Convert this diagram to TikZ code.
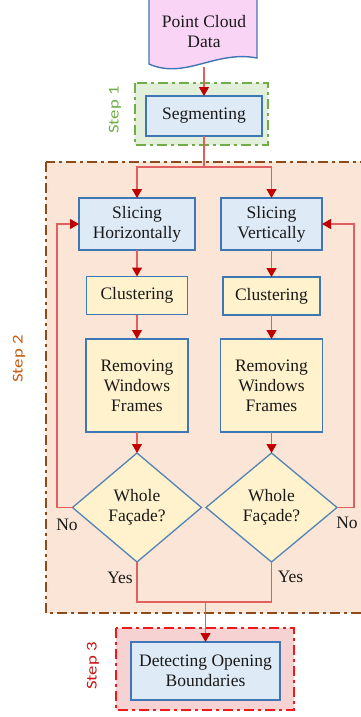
\documentclass[tikz,border=0pt]{standalone}
\usepackage{fontspec}
\setmainfont{Liberation Serif}
\newfontfamily\stepfont{Carlito}
\usetikzlibrary{shapes.geometric,arrows.meta}
\definecolor{pinkfill}{HTML}{FAD4F5}
\definecolor{bluefill}{HTML}{DEEBF7}
\definecolor{yellowfill}{HTML}{FFF2CC}
\definecolor{boxline}{HTML}{3F76B5}
\definecolor{diaLine}{HTML}{5283B5}
\definecolor{greenfill}{HTML}{E2EFDA}
\definecolor{greenline}{HTML}{70AD47}
\definecolor{brownfill}{HTML}{FBE5D6}
\definecolor{brownline}{HTML}{8F4A1A}
\definecolor{steptwo}{HTML}{C55A11}
\definecolor{redfill}{HTML}{F6D2D2}
\definecolor{redline}{HTML}{F01818}
\definecolor{conn}{HTML}{E06060}
\definecolor{tipred}{HTML}{C00000}
\tikzset{
  txt/.style={font=\fontsize{17.5}{20}\selectfont, text=black!90, align=center},
  procbox/.style={txt, draw=boxline, line width=1.4pt, inner sep=0pt, outer sep=0pt},
  bluebox/.style={procbox, fill=bluefill},
  yelbox/.style={procbox, fill=yellowfill},
  decision/.style={txt, diamond, draw=diaLine, line width=1.3pt, fill=yellowfill, inner sep=0pt, outer sep=0pt, aspect=1.18},
  frame/.style={line width=1.8pt, dash pattern=on 10pt off 4pt on 3pt off 4pt},
  steplabel/.style={font=\stepfont\fontsize{15}{17}\selectfont, rotate=90},
  conline/.style={draw=conn, line width=1.1pt},
  arr/.style={conline, -{Triangle[length=9pt,width=10pt,color=tipred]}},
  lbl/.style={txt}
}
\newcommand{\stretchtxt}[1]{\scalebox{1.25}[1]{#1}}
\begin{document}
\begin{tikzpicture}[x=1pt,y=-1pt]
\useasboundingbox (0,0) rectangle (361,717);
% frames
\draw[frame, draw=greenline, fill=greenfill] (135,83) rectangle (268,145);
\draw[frame, draw=brownline, fill=brownfill] (46,162) rectangle (366,613);
\draw[frame, draw=redline, fill=redfill] (116,628) rectangle (294,710);
\node[steplabel, text=greenline] (s1) at (115,110) {\stretchtxt{Step 1}};
\node[steplabel, text=steptwo] (s2) at (19,359) {\stretchtxt{Step 2}};
\node[steplabel, text=redline!85!black] (s3) at (93,666) {\stretchtxt{Step 3}};
% document shape
\draw[draw=boxline, line width=1.4pt, fill=pinkfill]
  (149,-3) -- (149,64) .. controls (185,80) and (215,50) .. (257,58) -- (257,-3) -- cycle;
\node[txt, minimum width=108pt, minimum height=72pt, inner sep=0pt] (pcd) at (204,32) {Point Cloud\\Data};
% nodes
\node[bluebox, minimum width=116pt, minimum height=40pt] (seg) at (204,116) {Segmenting};
\node[bluebox, minimum width=116pt, minimum height=52pt] (sh) at (137,224) {Slicing\\Horizontally};
\node[bluebox, minimum width=101pt, minimum height=52pt] (sv) at (271.5,224) {Slicing\\Vertically};
\node[yelbox, minimum width=101pt, minimum height=38pt] (cl) at (137,295.5) {Clustering};
\node[yelbox, minimum width=97pt, minimum height=38pt] (cr) at (271.5,296) {Clustering};
\node[yelbox, minimum width=102pt, minimum height=93pt] (rl) at (137,385.5) {Removing\\Windows\\Frames};
\node[yelbox, minimum width=102pt, minimum height=93pt] (rr) at (271.5,385.5) {Removing\\Windows\\Frames};
\node[decision, minimum width=129pt, minimum height=109pt] (dl) at (137,507.5) {Whole\\Façade?};
\node[decision, minimum width=131pt, minimum height=109pt] (dr) at (271.5,507.5) {Whole\\Façade?};
\node[bluebox, minimum width=149pt, minimum height=58pt] (det) at (205.5,671) {Detecting Opening\\Boundaries};
% labels
\node[lbl] (nol) at (67,525) {No};
\node[lbl] (nor) at (347,523) {No};
\node[lbl] (yesl) at (120,578) {Yes};
\node[lbl] (yesr) at (290.5,577) {Yes};
% connectors
\coordinate (pcdb) at (204,67);
\draw[arr] (pcdb) -- (seg.north);
\coordinate (split) at (204,167);
\draw[conline] (seg.south) -- (split);
\draw[arr] (split) -| (sh.north);
\draw[arr] (split) -| (sv.north);
\draw[arr] (sh.south) -- (cl.north);
\draw[arr] (sv.south) -- (cr.north);
\draw[arr] (cl.south) -- (rl.north);
\draw[arr] (cr.south) -- (rr.north);
\draw[arr] (rl.south) -- (dl.north);
\draw[arr] (rr.south) -- (dr.north);
\coordinate (nlc) at (57,507.5);
\coordinate (nrc) at (354,507.5);
\draw[arr] (dl.west) -- (nlc) |- (sh.west);
\draw[arr] (dr.east) -- (nrc) |- (sv.east);
\coordinate (join) at (205.5,602);
\draw[conline] (dl.south) |- (join) -| (dr.south);
\draw[arr] (join) -- (det.north);
\end{tikzpicture}
\end{document}
